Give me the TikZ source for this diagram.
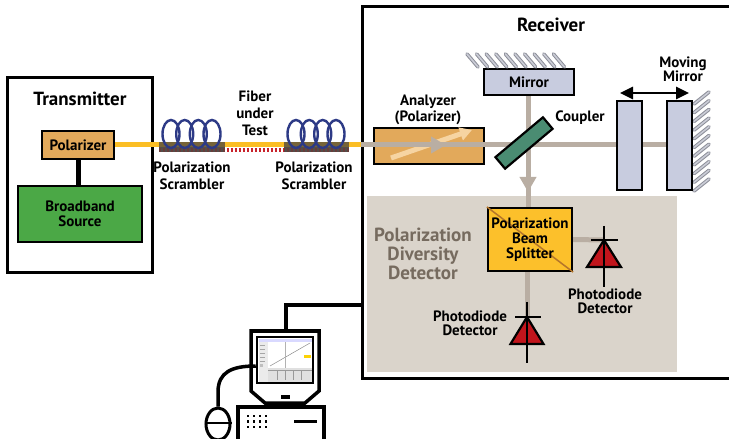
\documentclass[tikz,border=0pt]{standalone}
\usepackage{fontspec}
\setmainfont{PT Sans}
\usetikzlibrary{arrows.meta,shapes.geometric}

\definecolor{beamgrey}{HTML}{B9AEA3}
\definecolor{fiberyellow}{HTML}{FBBE24}
\definecolor{tanbox}{HTML}{E2A95B}
\definecolor{lighttan}{HTML}{F6D4A2}
\definecolor{srcgreen}{HTML}{4BA846}
\definecolor{coilnavy}{HTML}{2D3A86}
\definecolor{mirrorblue}{HTML}{C8CCDF}
\definecolor{couplergreen}{HTML}{4A8C72}
\definecolor{pbsyellow}{HTML}{FCC02B}
\definecolor{pbsline}{HTML}{B5762A}
\definecolor{regiongrey}{HTML}{DAD4CB}
\definecolor{diodered}{HTML}{C1151C}
\definecolor{regiontext}{HTML}{766B5F}
\definecolor{hatchdark}{HTML}{8C8E98}
\definecolor{hatchlight}{HTML}{CACCD6}
\definecolor{fiberred}{HTML}{C8232C}
\definecolor{scrbar}{HTML}{4A4540}

\tikzset{
  box/.style={draw=black, line width=2.2bp, inner sep=0pt},
  lbl/.style={font=\bfseries\fontsize{15bp}{#1}\selectfont, align=center, inner sep=0pt},
  lbl/.default=17bp,
  ttl/.style={font=\bfseries\fontsize{19bp}{19bp}\selectfont, align=center, inner sep=0pt},
  beam/.style={draw=beamgrey, line width=5bp},
  fiber/.style={draw=fiberyellow, line width=5bp},
  coil/.style={draw=coilnavy, line width=2.4bp},
  wire/.style={draw=black, line width=2.6bp},
  cable/.style={draw=black, line width=4bp},
  hatch/.style={line cap=round},
}

\newcommand{\hatchstroke}[2]{%
  \draw[hatch, hatchdark, line width=3.6bp] #1 -- #2;
  \draw[hatch, hatchlight, line width=1.6bp] #1 -- #2;}

\begin{document}
\begin{tikzpicture}[x=1bp, y=-1bp]
\useasboundingbox (0,0) rectangle (729,439);

% ---------------- Transmitter ----------------
\node[draw, line width=3bp, minimum width=144bp, minimum height=194bp] (tx) at (80,175) {};
\node[ttl] (txt) at (80,99) {Transmitter};
\node[box, fill=tanbox, minimum width=72bp, minimum height=28bp, lbl] (pol) at (78,145) {Polarizer};
\node[box, fill=srcgreen, minimum width=124bp, minimum height=56bp, lbl=15bp] (src) at (80,214) {Broadband\\Source};
\draw[black, line width=5bp] (src.north -| pol.south) -- (pol.south);

% ---------------- Receiver frame ----------------
\node[draw, line width=3bp, minimum width=369bp, minimum height=371bp] (rx) at (546.5,192.5) {};
\node[ttl] (rxt) at (551,25) {Receiver};
\node[fill=regiongrey, minimum width=310bp, minimum height=176bp, inner sep=0pt] (pdd) at (522,284) {};
\node[font=\bfseries\fontsize{19bp}{19bp}\selectfont, text=regiontext, align=center, inner sep=0pt] (pddt) at (423,254) {Polarization\\Diversity\\Detector};

% ---------------- Fiber link ----------------
\node[fill=scrbar, opacity=0.8, minimum width=66bp, minimum height=10bp, inner sep=0pt] (s1) at (192,147) {};
\node[fill=scrbar, opacity=0.8, minimum width=65bp, minimum height=10bp, inner sep=0pt] (s2) at (316.5,147) {};
\draw[fiber] (pol.east) -- (rx.west |- pol.east);
\draw[fiberred, line width=4bp, dash pattern=on 2bp off 2bp] (s1.west |- 0,150.5) -- (s2.east |- 0,150.5);
\node[fill=scrbar, opacity=0.75, minimum width=66bp, minimum height=10bp, inner sep=0pt] at (s1) {};
\node[fill=scrbar, opacity=0.75, minimum width=65bp, minimum height=10bp, inner sep=0pt] at (s2) {};
\foreach \cx in {171,184.7,198.3,212} \draw[coil] (\cx,134) ellipse [x radius=8.5bp, y radius=14bp];
\foreach \cx in {296,309.3,322.7,336} \draw[coil] (\cx,134) ellipse [x radius=8.5bp, y radius=14bp];
\node[lbl] (s1t) at (192,175.5) {Polarization\\Scrambler};
\node[lbl] (s2t) at (314,175.5) {Polarization\\Scrambler};
\node[lbl] (fut) at (255,113) {Fiber\\under\\Test};

% ---------------- Interferometer ----------------
\node[box, fill=tanbox, minimum width=110bp, minimum height=36bp] (ana) at (429,146) {};
\draw[lighttan, line width=5bp, -{Triangle[length=12bp, width=13bp]}] (391,158) -- (472,130);
\node[box, fill=mirrorblue, minimum width=90bp, minimum height=26bp, lbl] (mir) at (529,82) {Mirror};
\foreach \i in {0,...,9} {\hatchstroke{(478+9.6*\i,67)}{(467+9.6*\i,54)}}
\node[box, fill=mirrorblue, minimum width=25bp, minimum height=89bp] (mm1) at (629.5,145.5) {};
\node[box, fill=mirrorblue, minimum width=25bp, minimum height=89bp] (mm2) at (679.5,145.5) {};
\foreach \i in {0,...,10} {\hatchstroke{(694,104+8.7*\i)}{(709,92+8.7*\i)}}

% horizontal beam through the analyzer to the moving mirror
\draw[beam] (rx.west |- pol.east) -- (mm1.west |- 0,145);
\draw[beam] (mm1.east |- 0,145) -- (mm2.west |- 0,145);
\draw[beam, -{Triangle[length=15bp, width=16bp]}] (420,145) -- (446,145);
% vertical beam from the fixed mirror to the splitter
\node[box, fill=pbsyellow, minimum width=84bp, minimum height=63bp] (pbs) at (530,239.5) {};
\draw[beam] (mir.south -| 528,0) -- (pbs.north -| 528,0);
\draw[beam, -{Triangle[length=15bp, width=16bp]}] (528,170) -- (528,192);
\node[box, fill=couplergreen, rotate=40, minimum width=62bp, minimum height=15bp] (cpl) at (524,143) {};
\node[box, fill=mirrorblue, minimum width=25bp, minimum height=89bp] at (mm1) {};
\node[box, fill=mirrorblue, minimum width=25bp, minimum height=89bp] at (mm2) {};

\coordinate (ml) at (620,93);
\coordinate (mr) at (689,93);
\draw[black, line width=2.6bp, {Triangle[length=13bp, width=12bp]}-{Triangle[length=13bp, width=12bp]}] (ml) -- (mr);

\node[lbl=16bp] (anat) at (428,110) {Analyzer\\(Polarizer)};
\node[lbl] (cplt) at (580,118) {Coupler};
\node[lbl=14bp] (mmt) at (683,69) {Moving\\Mirror};

% ---------------- Detector ----------------
\draw[pbsline, line width=1.5bp] (pbs.north west) -- (pbs.south east);
\node[lbl=15bp] (pbst) at (pbs) {Polarization\\Beam\\Splitter};
\coordinate (d1) at (604,240);
\coordinate (d2) at (527,317);
\draw[beam] (pbs.east) -- (d1);
\draw[beam] (pbs.south -| d2) -- (d2);
\draw[box, fill=diodered, line join=miter] (d1) -- ++(-17,27) -- ++(34,0) -- cycle;
\draw[wire] (d1) ++(0,-14) -- ++(0,61);
\draw[wire] (d1) ++(-13,0) -- ++(27,0);
\draw[box, fill=diodered, line join=miter] (d2) -- ++(-16.5,27) -- ++(33,0) -- cycle;
\draw[wire] (d2) ++(0,-15) -- ++(0,61);
\draw[wire] (d2) ++(-12,0) -- ++(26,0);
\node[lbl=14bp] (d1t) at (605,301) {Photodiode\\Detector};
\node[lbl=14bp] (d2t) at (470,323) {Photodiode\\Detector};

% ---------------- Computer ----------------
\coordinate (montop) at (286,331);
\coordinate (cb) at (286,305);
\draw[cable] (rx.west |- cb) -- (cb) -- (montop);
\draw[black, line width=3.5bp, fill=white, line join=miter]
  (251,331) -- (319,331) -- (319,391) -- (305,403) -- (265,403) -- (251,391) -- cycle;
\fill[black] (281,395) rectangle (290,399);
\node[draw=black, line width=2.5bp, fill=white, minimum width=56bp, minimum height=46bp, inner sep=0pt] (scr) at (285,360) {};
% screen contents
\fill[black!8] (258.5,338.5) rectangle (311.5,381.5);
\fill[blue!15] (258.5,338.5) rectangle (311.5,341.5);
\fill[white] (268,342) rectangle (311.5,368);
\draw[black!45, line width=0.5bp] (270,366) -- (310,343);
\draw[black!30, line width=0.4bp] (285,342) -- (285,368);
\foreach \yy in {345,349,353,357,361} \draw[black!35, line width=0.5bp] (260,\yy) -- (265,\yy);
\fill[black!25] (260,364) rectangle (263,367);
\fill[black!12] (268,368) rectangle (311.5,381.5);
\foreach \xx in {277,285,293,301} \draw[black!40, line width=0.5bp] (\xx,370) -- (\xx,380);
\draw[black!40, line width=0.5bp] (268,370) -- (311.5,370);
\fill[yellow!70!orange] (304,355) rectangle (311,358);
\node[draw=black, line width=3.5bp, fill=white, minimum width=86bp, minimum height=40bp, inner sep=0pt] (cpu) at (281,427) {};
\foreach \xx in {248,254,260,266} \foreach \yy in {416,421.5,427} \fill[black] (\xx-1.3,\yy-1.3) rectangle (\xx+1.3,\yy+1.3);
\draw[black, line width=3bp] (294,421) -- (317,421);
\node[draw=black, ellipse, line width=3bp, fill=white, minimum width=24bp, minimum height=32bp, inner sep=0pt] (mouse) at (218,424) {};
\draw[black, line width=2.5bp] (mouse.west |- 0,423) -- (mouse.east |- 0,423);
\draw[cable, line width=3.5bp] (mouse.north) -- (218,392) .. controls (218,372) and (232,366) .. (scr.west |- 0,366);
\end{tikzpicture}
\end{document}
